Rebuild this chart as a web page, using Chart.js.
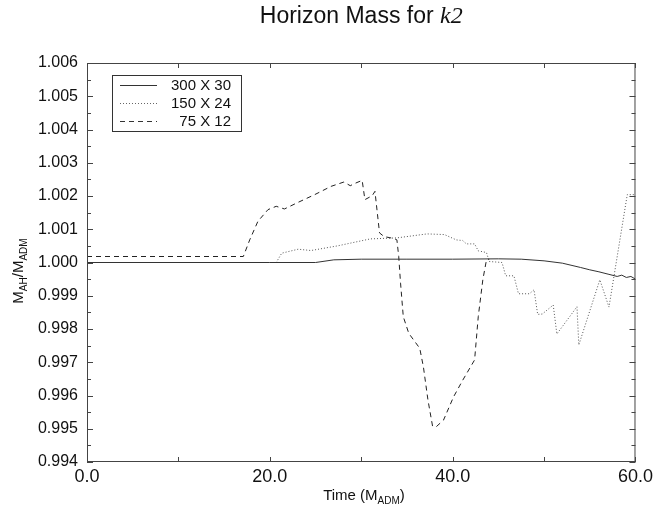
<!DOCTYPE html>
<html>
<head>
<meta charset="utf-8">
<script src="https://cdn.jsdelivr.net/npm/chart.js@4"></script>
<style>
  html, body { margin: 0; padding: 0; background: #fff; }
  #wrap { width: 657px; height: 508px; }
</style>
</head>
<body>
<div id="wrap"><canvas id="chartMass" width="657" height="508"></canvas></div>
<script>
// Horizon mass data
const solidT = [0, 20, 25, 27, 30, 35, 40, 45, 47.5, 50, 52, 54, 55, 56, 57, 58, 58.5, 59, 59.5, 60];
const solidV = [1.0000, 1.0000, 1.0000, 1.00008, 1.0001, 1.0001, 1.0001, 1.00011, 1.0001, 1.00005, 0.99998, 0.99985, 0.99978, 0.99972, 0.99965, 0.99958, 0.99962, 0.99955, 0.99958, 0.9995];

const dotT = [0, 20.7, 21.3, 23.1, 24.5, 27.4, 31.0, 33.9, 37.2, 39.1, 40.4, 41.1, 41.5, 42.4, 42.8, 43.7, 44.0, 45.4, 45.8, 46.7, 47.2, 48.4, 48.9, 49.3, 49.8, 51.0, 51.4, 53.6, 53.8, 56.1, 57.1, 59.1, 60];
const dotV = [1.0000, 1.0000, 1.00028, 1.0004, 1.00036, 1.0005, 1.00071, 1.00074, 1.00086, 1.00084, 1.00068, 1.00066, 1.00056, 1.00056, 1.00035, 1.0003, 1.00003, 1.0000, 0.9996, 0.9996, 0.99906, 0.99906, 0.99918, 0.99844, 0.99845, 0.99872, 0.99785, 0.99867, 0.99752, 0.99948, 0.99866, 1.00204, 1.00204];

const dashT = [0, 17.1, 17.8, 18.7, 19.8, 20.7, 21.6, 23.1, 24.9, 26.7, 28.1, 28.8, 29.4, 30.1, 30.4, 31.2, 31.5, 32.0, 32.5, 33.6, 33.9, 34.1, 34.3, 34.6, 35.2, 36.4, 36.8, 37.3, 37.8, 38.2, 39.0, 40.1, 41.1, 42.4, 42.8, 43.3, 43.7, 44.0];
const dashV = [1.00018, 1.00018, 1.00068, 1.00124, 1.00159, 1.00169, 1.00161, 1.00181, 1.00204, 1.00229, 1.00242, 1.00231, 1.00239, 1.00247, 1.00189, 1.00201, 1.00214, 1.00089, 1.00078, 1.00072, 1.00068, 1.00018, 0.99938, 0.99837, 0.99787, 0.99742, 0.99686, 0.99586, 0.99508, 0.99506, 0.99526, 0.99596, 0.99646, 0.99707, 0.99837, 0.99948, 1.00008, 1.0001];

const seriesNames = ['300 X 30', '150 X 24', '75 X 12'];
const xLabeled = [0, 20, 40, 60];

const sans = '"Liberation Sans", Arial, Helvetica, sans-serif';

function pts(t, v) { return t.map((x, i) => ({ x: x, y: v[i] })); }

// title, axis labels, legend box and inward ticks
const decor = {
  id: 'decor',
  afterDraw(chart) {
    const ctx = chart.ctx;
    const a = chart.chartArea;
    const xs = chart.scales.x, ys = chart.scales.y;
    ctx.save();

    // frame
    ctx.strokeStyle = '#444';
    ctx.lineWidth = 1;
    ctx.strokeRect(a.left + 0.5, a.top + 0.5, a.right - a.left - 1, a.bottom - a.top - 1);

    // inward ticks on all sides
    ctx.beginPath();
    for (let v = 0; v <= 60; v += 10) {
      const px = Math.round(xs.getPixelForValue(v)) + 0.5;
      ctx.moveTo(px, a.bottom); ctx.lineTo(px, a.bottom - 5);
      ctx.moveTo(px, a.top); ctx.lineTo(px, a.top + 5);
    }
    for (let k = 0; k <= 24; k++) {
      const v = 0.994 + k * 0.0005;
      const py = Math.round(ys.getPixelForValue(v)) + 0.5;
      const len = (k % 2 === 0) ? 6 : 4;
      ctx.moveTo(a.left, py); ctx.lineTo(a.left + len, py);
      ctx.moveTo(a.right, py); ctx.lineTo(a.right - len, py);
    }
    ctx.stroke();

    // title
    ctx.fillStyle = '#111';
    ctx.textBaseline = 'alphabetic';
    ctx.textAlign = 'left';
    const t1 = 'Horizon Mass for ';
    const serifIt = 'italic 24px "Liberation Serif", "Times New Roman", serif';
    ctx.font = '23px ' + sans;
    const w1 = ctx.measureText(t1).width;
    ctx.font = serifIt;
    const w2 = ctx.measureText('k2').width;
    const tx = (a.left + a.right) / 2 - (w1 + w2) / 2;
    ctx.font = '23px ' + sans;
    ctx.fillText(t1, tx, 23);
    ctx.font = serifIt;
    ctx.fillText('k2', tx + w1, 23);

    // x axis label: Time (M_ADM)
    const parts = [['Time (M', 15, 0], ['ADM', 10, 4], [')', 15, 0]];
    let tw = 0;
    parts.forEach(p => { ctx.font = p[1] + 'px ' + sans; tw += ctx.measureText(p[0]).width; });
    let cx = 364 - tw / 2;
    parts.forEach(p => {
      ctx.font = p[1] + 'px ' + sans;
      ctx.fillText(p[0], cx, 500 + p[2]);
      cx += ctx.measureText(p[0]).width;
    });

    // y axis label: M_AH / M_ADM, rotated
    ctx.save();
    ctx.translate(23, 271);
    ctx.rotate(-Math.PI / 2);
    const yp = [['M', 15, 0], ['AH', 10, 4], ['/M', 15, 0], ['ADM', 10, 4]];
    tw = 0;
    yp.forEach(p => { ctx.font = p[1] + 'px ' + sans; tw += ctx.measureText(p[0]).width; });
    cx = -tw / 2;
    yp.forEach(p => {
      ctx.font = p[1] + 'px ' + sans;
      ctx.fillText(p[0], cx, p[2]);
      cx += ctx.measureText(p[0]).width;
    });
    ctx.restore();

    // legend box
    const bx = 112, by = 75, bw = 129, bh = 56;
    ctx.fillStyle = '#fff';
    ctx.fillRect(bx, by, bw, bh);
    ctx.strokeStyle = '#333';
    ctx.lineWidth = 1;
    ctx.strokeRect(bx + 0.5, by + 0.5, bw, bh);
    const dashes = [[], [1, 2], [5, 4]];
    ctx.font = '15px ' + sans;
    ctx.textBaseline = 'middle';
    ctx.textAlign = 'right';
    seriesNames.forEach((name, i) => {
      const ry = 85 + i * 18 + 0.5;
      ctx.beginPath();
      ctx.setLineDash(dashes[i]);
      ctx.strokeStyle = i === 1 ? '#666' : '#333';
      ctx.moveTo(120, ry); ctx.lineTo(157, ry);
      ctx.stroke();
      ctx.setLineDash([]);
      ctx.fillStyle = '#111';
      ctx.fillText(name, 231, ry);
    });
    ctx.restore();
  }
};

new Chart(document.getElementById('chartMass'), {
  type: 'line',
  data: {
    datasets: [
      { label: seriesNames[0], data: pts(solidT, solidV), borderColor: '#333', borderWidth: 1, pointRadius: 0, tension: 0 },
      { label: seriesNames[1], data: pts(dotT, dotV), borderColor: '#555', borderWidth: 1, borderDash: [1, 2], pointRadius: 0, tension: 0 },
      { label: seriesNames[2], data: pts(dashT, dashV), borderColor: '#222', borderWidth: 1, borderDash: [5, 4], pointRadius: 0, tension: 0 },
    ],
  },
  options: {
    responsive: false,
    animation: false,
    events: [],
    layout: { autoPadding: false, padding: { left: 0, right: 16, top: 63, bottom: 0 } },
    plugins: { legend: { display: false }, title: { display: false }, tooltip: { enabled: false } },
    scales: {
      x: {
        type: 'linear', min: 0, max: 60,
        grid: { display: false, drawTicks: false },
        border: { display: false },
        afterFit: s => { s.height = 46; },
        afterBuildTicks: s => { s.ticks = xLabeled.map(v => ({ value: v })); },
        ticks: {
          padding: 4, color: '#111', font: { family: sans, size: 18 },
          maxRotation: 0, autoSkip: false,
          callback: v => v.toFixed(1),
        },
      },
      y: {
        type: 'linear', min: 0.994, max: 1.006,
        grid: { display: false, drawTicks: false },
        border: { display: false },
        afterFit: s => { s.width = 87; },
        afterBuildTicks: s => {
          const t = [];
          for (let k = 0; k <= 12; k++) t.push({ value: 0.994 + k * 0.001 });
          s.ticks = t;
        },
        ticks: {
          padding: 9, color: '#111', font: { family: sans, size: 16 },
          autoSkip: false,
          callback: v => v.toFixed(3),
        },
      },
    },
  },
  plugins: [decor],
});
</script>
</body>
</html>
